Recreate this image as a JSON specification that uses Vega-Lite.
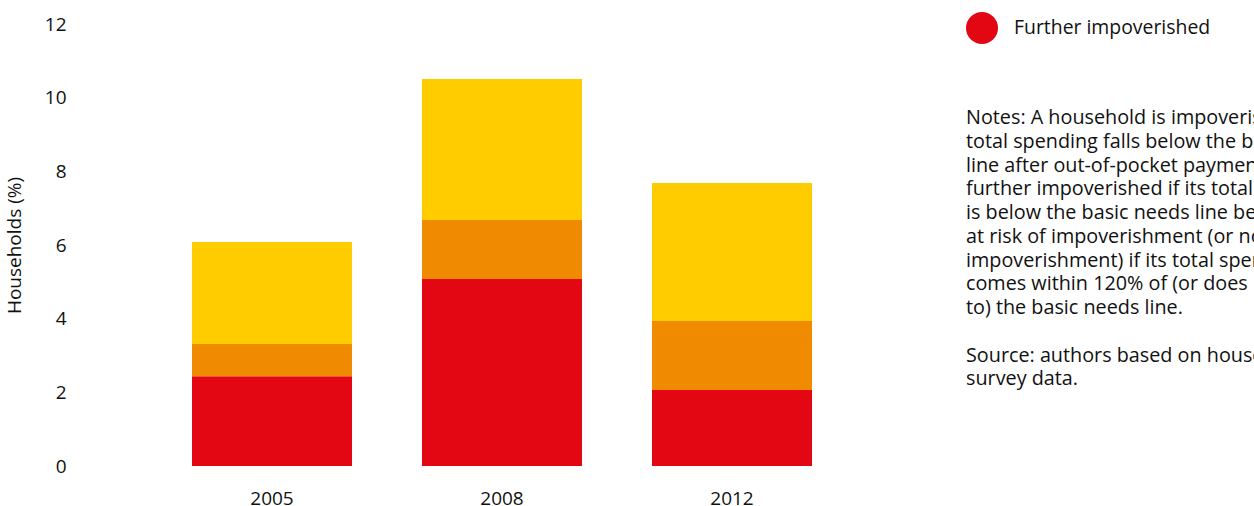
{
  "$schema": "https://vega.github.io/schema/vega-lite/v6.json",
  "width": 854,
  "height": 442,
  "autosize": {"type": "none"},
  "padding": {"left": 75, "top": 24, "right": 325, "bottom": 40},
  "background": "white",
  "config": {"font": "Open Sans", "view": {"stroke": null}},
  "data": {
    "values": [
      {"year": "2005", "status": "Further impoverished", "rank": 1, "value": 2.44},
      {"year": "2005", "status": "Impoverished", "rank": 2, "value": 0.87},
      {"year": "2005", "status": "At risk of impoverishment", "rank": 3, "value": 2.77},
      {"year": "2008", "status": "Further impoverished", "rank": 1, "value": 5.08},
      {"year": "2008", "status": "Impoverished", "rank": 2, "value": 1.6},
      {"year": "2008", "status": "At risk of impoverishment", "rank": 3, "value": 3.83},
      {"year": "2012", "status": "Further impoverished", "rank": 1, "value": 2.06},
      {"year": "2012", "status": "Impoverished", "rank": 2, "value": 1.88},
      {"year": "2012", "status": "At risk of impoverishment", "rank": 3, "value": 3.74}
    ]
  },
  "mark": {"type": "bar"},
  "encoding": {
    "x": {
      "field": "year",
      "type": "nominal",
      "scale": {"paddingInner": 0.3043, "paddingOuter": 0.5087},
      "axis": {"title": null, "labelAngle": 0, "domain": false, "ticks": false, "labelFontSize": 19, "labelPadding": 23, "labelColor": "#111111"}
    },
    "y": {
      "field": "value",
      "type": "quantitative",
      "stack": "zero",
      "scale": {"domain": [0, 12], "nice": false},
      "axis": {"values": [0, 2, 4, 6, 8, 10, 12], "title": "Households (%)", "domain": false, "ticks": false, "grid": false, "labelFontSize": 19, "labelPadding": 9, "labelColor": "#111111", "titleFontSize": 19, "titleFontWeight": "normal", "titlePadding": 20, "titleColor": "#111111"}
    },
    "color": {
      "field": "status",
      "type": "nominal",
      "scale": {"domain": ["Further impoverished", "Impoverished", "At risk of impoverishment"], "range": ["#E30613", "#F08A00", "#FFCC00"]},
      "legend": {
        "values": ["Further impoverished"],
        "orient": "none",
        "legendX": 891,
        "legendY": -12,
        "symbolType": "circle",
        "symbolSize": 1024,
        "symbolOpacity": 1,
        "symbolStrokeWidth": 0,
        "labelFontSize": 19.4,
        "labelOffset": 16,
        "labelColor": "#111111",
        "labelLimit": 1000,
        "title": [
          "Notes: A household is impoverished if its",
          "total spending falls below the basic needs",
          "line after out-of-pocket payments;",
          "further impoverished if its total spending",
          "is below the basic needs line before payments;",
          "at risk of impoverishment (or not at risk of",
          "impoverishment) if its total spending",
          "comes within 120% of (or does not come close",
          "to) the basic needs line.",
          "\u2800",
          "Source: authors based on household budget",
          "survey data."
        ],
        "titleOrient": "bottom",
        "titleAnchor": "start",
        "titleAlign": "left",
        "titleFontSize": 19.8,
        "titleFontWeight": "normal",
        "titleLineHeight": 23.75,
        "titlePadding": 64,
        "titleColor": "#111111",
        "titleLimit": 2000
      }
    },
    "order": {"field": "rank", "type": "quantitative"}
  }
}
